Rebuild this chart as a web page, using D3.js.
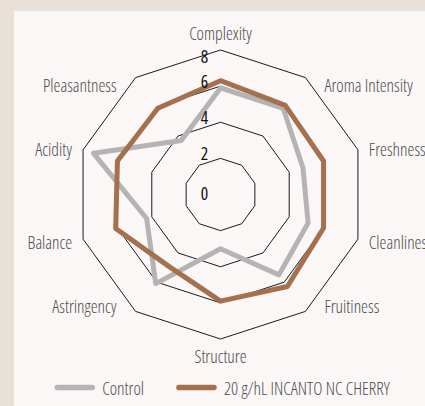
<!DOCTYPE html>
<html>
<head>
<meta charset="utf-8">
<script src="https://cdn.jsdelivr.net/npm/d3@7"></script>
<style>
  html, body { margin: 0; padding: 0; background: #e9e0d7; }
  svg { display: block; }
  text { font-family: "Open Sans", sans-serif; font-stretch: 75%; }
</style>
</head>
<body>
<svg id="chart" width="425" height="406"></svg>
<script>
// ---- data ----
const categories = ["Complexity", "Aroma Intensity", "Freshness", "Cleanliness", "Fruitiness",
                    "Structure", "Astringency", "Balance", "Acidity", "Pleasantness"];
const controlValues = [5.9, 5.9, 4.8, 5.1, 5.5, 3.0, 6.1, 4.3, 7.4, 3.7];
const incantoValues = [6.3, 6.1, 6.0, 6.0, 6.3, 5.9, 4.9, 6.1, 6.0, 5.9];
const seriesNames = ["Control", "20 g/hL INCANTO NC CHERRY"];
const tickValues = [0, 2, 4, 6, 8];

// ---- layout ----
const W = 425, H = 406;
const cx = 220.5, cy = 194.5, R = 144.5;
const colors = ["#b4b4b4", "#a5704d"];

const svg = d3.select("#chart");
svg.append("rect").attr("x", 0).attr("y", 0).attr("width", W).attr("height", H).attr("fill", "#e9e0d7");
svg.append("rect").attr("x", 14).attr("y", 11).attr("width", W - 14).attr("height", H - 11).attr("fill", "#faf7f6");

const r = d3.scaleLinear().domain([0, 8]).range([0, R]);
const angle = d3.scaleLinear().domain([0, categories.length]).range([0, 2 * Math.PI]);

const g = svg.append("g").attr("transform", `translate(${cx},${cy})`);

// grid rings
const ringLine = d3.lineRadial().angle((d, i) => angle(i)).radius(d => r(d)).curve(d3.curveLinearClosed);
tickValues.filter(v => v > 0).forEach(v => {
  g.append("path")
    .attr("d", ringLine(categories.map(() => v)))
    .attr("fill", "none")
    .attr("stroke", "#1a1a1a")
    .attr("stroke-width", 1);
});

// series
const seriesLine = d3.lineRadial().angle((d, i) => angle(i)).radius(d => r(d)).curve(d3.curveLinearClosed);
[controlValues, incantoValues].forEach((vals, si) => {
  g.append("path")
    .attr("d", seriesLine(vals))
    .attr("fill", "none")
    .attr("stroke", colors[si])
    .attr("stroke-width", 5)
    .attr("stroke-linejoin", "round");
});

// tick labels
tickValues.forEach(v => {
  g.append("text")
    .attr("x", -16)
    .attr("y", -Math.min(r(v) + (v > 0 ? 5 : 2), R - 6))
    .attr("text-anchor", "middle")
    .attr("dominant-baseline", "central")
    .attr("font-size", 17.5)
    .attr("font-weight", 400)
    .attr("fill", "#111")
    .text(v);
});

// category labels
categories.forEach((c, i) => {
  const a = angle(i);
  const s = Math.sin(a), co = Math.cos(a);
  let x, y, anchor;
  if (Math.abs(s) < 0.01) {
    x = 0; anchor = "middle";
    y = -co * (R + 17);
  } else {
    anchor = s > 0 ? "start" : "end";
    x = s * R + Math.sign(s) * (6 + 16 * Math.abs(co));
    y = 1 - Math.sign(co) * 132.7 * Math.pow(Math.abs(co), 0.884);
  }
  g.append("text")
    .attr("x", x).attr("y", y)
    .attr("text-anchor", anchor)
    .attr("dominant-baseline", "central")
    .attr("font-size", 17.5)
    .attr("font-weight", 300)
    .attr("fill", "#4d4d4d")
    .text(c);
});

// legend
const legend = svg.append("g");
const legY = 387.5;
let lx = 0;
seriesNames.forEach((name, i) => {
  const it = legend.append("g");
  it.append("line").attr("x1", lx).attr("x2", lx + 35).attr("y1", legY).attr("y2", legY)
    .attr("stroke", colors[i]).attr("stroke-width", 5.5).attr("stroke-linecap", "round");
  const t = it.append("text").attr("x", lx + 45).attr("y", legY)
    .attr("dominant-baseline", "central")
    .attr("font-size", 17.5).attr("font-weight", 300).attr("fill", "#4d4d4d").text(name);
  lx += 45 + t.node().getComputedTextLength() + 35;
});
const legW = lx - 35;
legend.attr("transform", `translate(${cx + 3 - legW / 2},0)`);
</script>
</body>
</html>
